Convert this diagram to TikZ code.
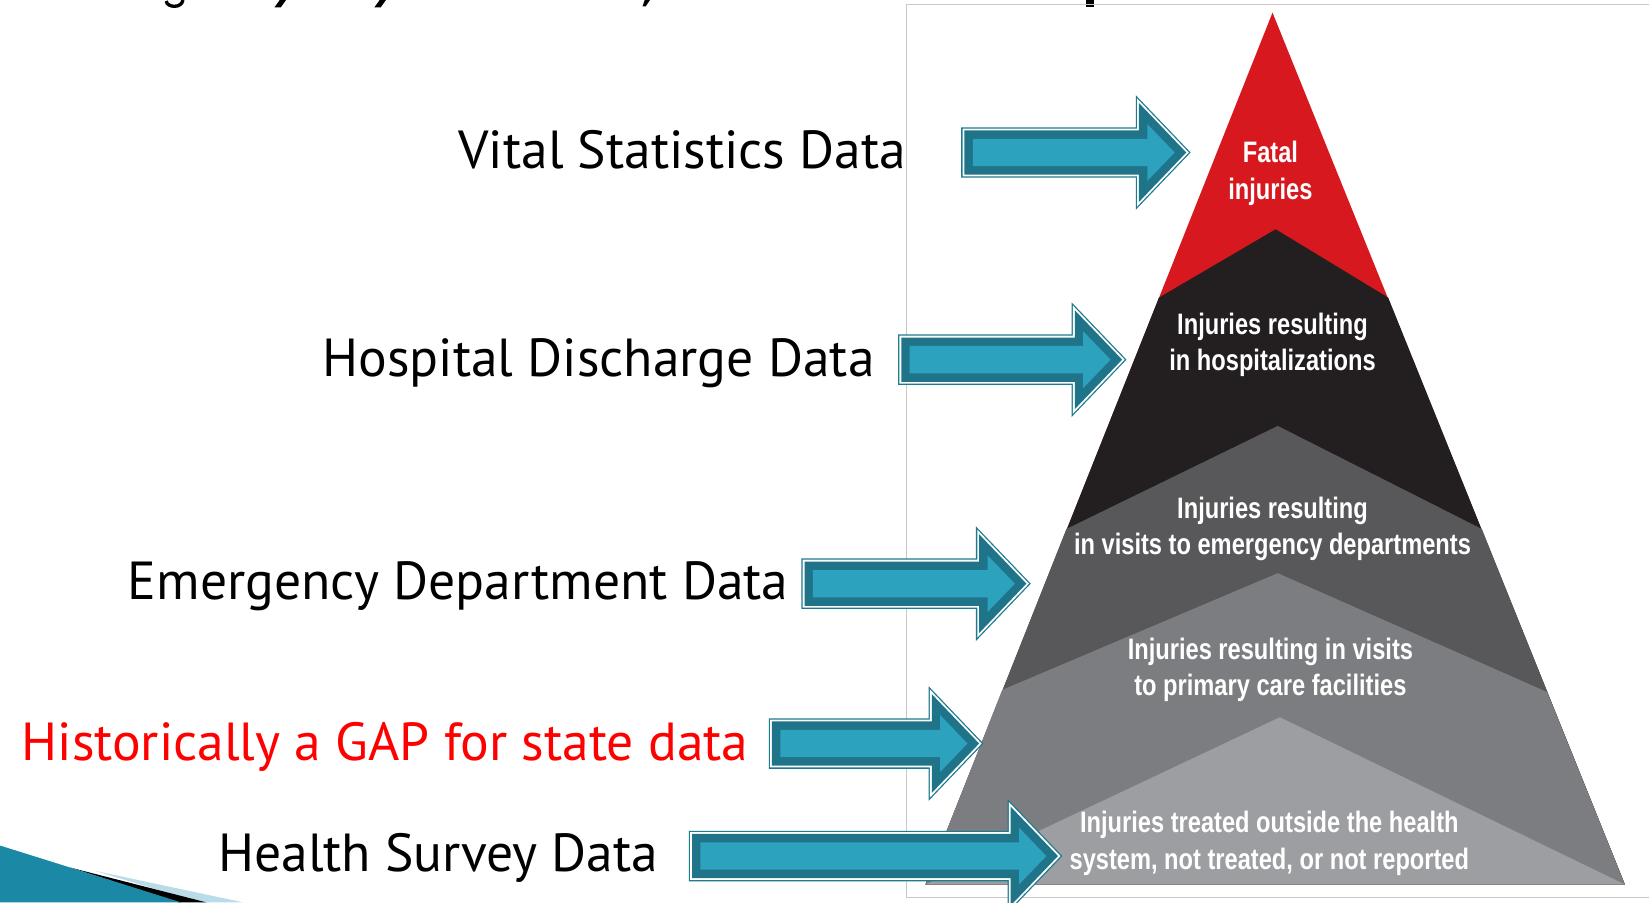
\documentclass[tikz,border=0pt]{standalone}
\usepackage{fontspec}
\setmainfont{PT Sans}
\newfontfamily\pyrfont[FakeStretch=0.8]{Liberation Sans}
\usepackage{tikz}
\usetikzlibrary{calc}
\usepackage{xcolor}
\definecolor{fatalred}{HTML}{D7191F}
\definecolor{hospblack}{HTML}{231F20}
\definecolor{edgray}{HTML}{58585A}
\definecolor{pcgray}{HTML}{7C7D80}
\definecolor{outgray}{HTML}{9D9EA2}
\definecolor{arrowfill}{HTML}{2CA2BF}
\definecolor{arrowdark}{HTML}{1F7489}
\definecolor{arrowedge}{HTML}{1F7A8C}
\definecolor{framegray}{HTML}{C8C8C8}
\definecolor{gapred}{HTML}{FF0000}
\definecolor{swoosh}{HTML}{1B88A5}
\definecolor{swooshlight}{HTML}{B9DCE8}
\tikzstyle{datalabel} = [anchor=base east, inner sep=0pt, font=\fontsize{29}{34}\selectfont]
\tikzstyle{bandtext} = [text=white, align=center, inner sep=0pt, font=\pyrfont\bfseries\fontsize{16}{19.9}\selectfont]
\tikzstyle{arrowring} = [draw=arrowedge, double=white, line width=0.7pt, double distance=2pt, line join=miter]
\newcommand{\dataarrow}[2]{%
	\path[arrowring] ($(#1)+(0,-21)$) -- ($(#2)+(-45,-21)$) -- ($(#2)+(-45,-47)$) -- (#2) -- ($(#2)+(-45,47)$) -- ($(#2)+(-45,21)$) -- ($(#1)+(0,21)$) -- cycle;
	\fill[arrowdark] ($(#1)+(0,-21)$) -- ($(#2)+(-45,-21)$) -- ($(#2)+(-45,-47)$) -- (#2) -- ($(#2)+(-45,47)$) -- ($(#2)+(-45,21)$) -- ($(#1)+(0,21)$) -- cycle;
	\fill[arrowfill] ($(#1)+(8,-13)$) -- ($(#2)+(-37,-13)$) -- ($(#2)+(-37,-27)$) -- ($(#2)+(-11,0)$) -- ($(#2)+(-37,27)$) -- ($(#2)+(-37,13)$) -- ($(#1)+(8,13)$) -- cycle;
}

\begin{document}
\begin{tikzpicture}[x=0.02cm, y=-0.02cm]
	\useasboundingbox (0,0) rectangle (1568,858);
	%Title remnants
	\draw[line width=1.8pt] (158,1) to[out=-80,in=180] (166,6) to[out=0,in=-100] (174,0);
	\fill (266,0) -- (272,0) -- (267,7) -- (261,7) -- cycle;
	\fill (361,0) -- (367,0) -- (362,7) -- (356,7) -- cycle;
	\fill (613,0) -- (618,0) -- (614,6) -- (611,6) -- cycle;
	\fill (1033,0) rectangle (1040,7);
	%Frame
	\draw[framegray, line width=0.6pt] (1570,4) -- (862,4) -- (862,853) -- (1570,853);
	%Pyramid
	\fill[fatalred] (1210,12) -- (1545,841) -- (880,841) -- cycle;
	\fill[hospblack] (1102,283) -- (1213,218) -- (1320,283) -- (1545,841) -- (880,841) -- cycle;
	\fill[edgray] (1014,503) -- (1215,405) -- (1409,503) -- (1545,841) -- (880,841) -- cycle;
	\fill[pcgray] (953,656) -- (1215,545) -- (1471,658) -- (1545,841) -- (880,841) -- cycle;
	\fill[outgray] (880,841) -- (1217,682) -- (1545,841) -- cycle;
	\node[bandtext] (fatal) at (1208,165) {Fatal\\injuries};
	\node[bandtext] (hosp) at (1210,328) {Injuries resulting\\in hospitalizations};
	\node[bandtext] (emerg) at (1210,503) {Injuries resulting\\in visits to emergency departments};
	\node[bandtext] (primary) at (1208,637) {Injuries resulting in visits\\to primary care facilities};
	\node[bandtext] (outside) at (1207,802) {Injuries treated outside the health\\system, not treated, or not reported};
	%Swoosh
	\fill[swooshlight] (90,828) -- (231,858) -- (190,858) -- cycle;
	\fill[black] (67,825) -- (196,858) -- (170,858) -- cycle;
	\fill[swoosh] (0,804) -- (67,825) -- (172,858) -- (0,858) -- cycle;
	%Data sources
	\node[datalabel] (vital) at (862,160) {Vital Statistics Data};
	\node[datalabel] (discharge) at (832,358) {Hospital Discharge Data};
	\node[datalabel] (ed) at (750,570) {Emergency Department Data};
	\node[datalabel, text=gapred] (gap) at (712,723) {Historically a GAP for state data};
	\node[datalabel] (survey) at (626,829) {Health Survey Data};
	%Arrows
	\coordinate (vitalS) at (917,145);
	\coordinate (vitalT) at (1128,145);
	\coordinate (dischargeS) at (857,342);
	\coordinate (dischargeT) at (1067,342);
	\coordinate (edS) at (765,555);
	\coordinate (edT) at (976,555);
	\coordinate (gapS) at (734,707);
	\coordinate (gapT) at (931,707);
	\coordinate (surveyS) at (658,814);
	\coordinate (surveyT) at (1006,814);
	\dataarrow{vitalS}{vitalT}
	\dataarrow{dischargeS}{dischargeT}
	\dataarrow{edS}{edT}
	\dataarrow{gapS}{gapT}
	\dataarrow{surveyS}{surveyT}
\end{tikzpicture}
\end{document}
